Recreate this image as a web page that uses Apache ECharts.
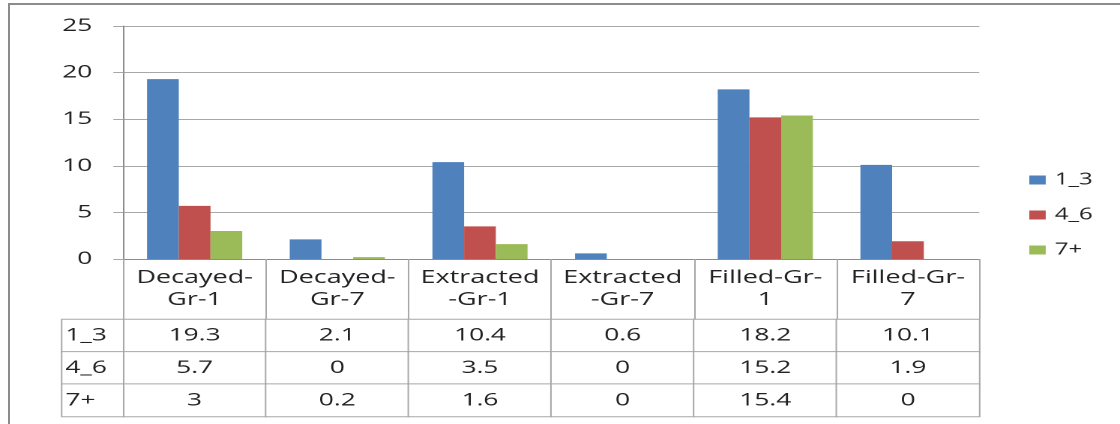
<!DOCTYPE html>
<html>
<head>
<meta charset="utf-8">
<script src="https://cdn.jsdelivr.net/npm/echarts@6/dist/echarts.min.js"></script>
<style>
  html, body { margin: 0; padding: 0; background: #fff; overflow: hidden; }
  body { width: 1120px; height: 424px; position: relative; }
  #frame {
    position: absolute; left: 8px; top: 3px; right: 0; bottom: 0;
    border-top: 2px solid #8c8c8c; border-left: 2px solid #8c8c8c;
  }
  #chart {
    position: absolute; left: 0; top: 0; width: 747px; height: 424px;
    transform-origin: 0 0; transform: scaleX(1.49933);
  }
</style>
</head>
<body>
<div id="frame"></div>
<div id="chart"></div>
<script>
// Category headers (wrapped as in the data table header row)
const categories = ['Decayed-\nGr-1', 'Decayed-\nGr-7', 'Extracted\n-Gr-1', 'Extracted\n-Gr-7', 'Filled-Gr-\n1', 'Filled-Gr-\n7'];
const seriesNames = ['1_3', '4_6', '7+'];
const values13 = [19.3, 2.1, 10.4, 0.6, 18.2, 10.1];
const values46 = [5.7, 0, 3.5, 0, 15.2, 1.9];
const values7p = [3, 0.2, 1.6, 0, 15.4, 0];
const yTicks = { min: 0, max: 25, interval: 5 };
const colors = ['#4f81bd', '#c0504d', '#9bbb59'];

const seriesValues = [values13, values46, values7p];

// The canvas is drawn narrower and widened horizontally by CSS; convert page x to canvas x
const SX = 1120 / 747;
const px = x => x / SX;

const FONT = 'Open Sans';
const TEXT = '#222222';
const GRID_LINE = '#a8a8a8';
const AXIS_LINE = '#8c8c8c';

// Cells of the data table: [column, row, value]
const tableCells = [];
seriesValues.forEach((arr, r) => arr.forEach((v, c) => tableCells.push([c, r, v])));
const rowLabelCells = seriesNames.map((n, r) => [0, r, r]);

const chart = echarts.init(document.getElementById('chart'), null, { renderer: 'canvas', devicePixelRatio: 2 });

const chartLeft = px(123.3);
const chartWidth = px(979.3) - px(123.3);

chart.setOption({
  animation: false,
  color: colors,
  textStyle: { fontFamily: FONT },
  legend: {
    data: seriesNames,
    orient: 'vertical',
    left: px(1029.3),
    top: 170,
    padding: 0,
    icon: 'rect',
    itemWidth: px(1045.7) - px(1029.3),
    itemHeight: 9,
    itemGap: 15,
    textStyle: { fontFamily: FONT, fontSize: 16, color: TEXT, lineHeight: 20, padding: [0, 0, 0, 1] }
  },
  grid: [
    { left: chartLeft, top: 26, width: chartWidth, height: 233 },
    { left: chartLeft, top: 319.5, width: chartWidth, height: 97 },
    { left: px(62), top: 319.5, width: px(123.3) - px(62), height: 97 }
  ],
  xAxis: [
    {
      gridIndex: 0,
      type: 'category',
      data: categories,
      axisLine: { lineStyle: { color: AXIS_LINE, width: 1 } },
      axisTick: { show: true, interval: 0, length: 60, lineStyle: { color: GRID_LINE } },
      axisLabel: { interval: 0, margin: 8, fontFamily: FONT, fontSize: 18, lineHeight: 22, color: TEXT }
    },
    { gridIndex: 1, type: 'category', data: categories, show: false },
    { gridIndex: 2, type: 'category', data: [''], show: false }
  ],
  yAxis: [
    {
      gridIndex: 0,
      type: 'value',
      min: yTicks.min, max: yTicks.max, interval: yTicks.interval,
      axisLine: { show: true, lineStyle: { color: AXIS_LINE, width: 1 } },
      axisTick: { show: true, length: px(10), lineStyle: { color: GRID_LINE } },
      splitLine: { lineStyle: { color: GRID_LINE, width: 1 } },
      axisLabel: { margin: px(31), fontFamily: FONT, fontSize: 17.5, color: TEXT }
    },
    { gridIndex: 1, type: 'category', data: seriesNames, inverse: true, show: false },
    { gridIndex: 2, type: 'category', data: seriesNames, inverse: true, show: false }
  ],
  series: [
    ...seriesNames.map((name, i) => ({
      name,
      type: 'bar',
      xAxisIndex: 0,
      yAxisIndex: 0,
      data: seriesValues[i],
      barGap: '0%',
      barCategoryGap: '33.3%',
      itemStyle: { color: colors[i] }
    })),
    {
      name: 'table',
      type: 'heatmap',
      xAxisIndex: 1,
      yAxisIndex: 1,
      data: tableCells,
      itemStyle: { color: '#ffffff', borderColor: GRID_LINE, borderWidth: 1 },
      label: {
        show: true,
        formatter: p => String(p.value[2]),
        fontFamily: FONT, fontSize: 17.5, color: TEXT
      },
      emphasis: { disabled: true }
    },
    {
      name: 'rowLabels',
      type: 'heatmap',
      xAxisIndex: 2,
      yAxisIndex: 2,
      data: rowLabelCells,
      itemStyle: { color: '#ffffff', borderColor: GRID_LINE, borderWidth: 1 },
      label: {
        show: true,
        position: 'insideLeft',
        distance: 3,
        formatter: p => seriesNames[p.value[1]],
        fontFamily: FONT, fontSize: 17.5, color: TEXT
      },
      emphasis: { disabled: true }
    }
  ]
});
</script>
</body>
</html>
